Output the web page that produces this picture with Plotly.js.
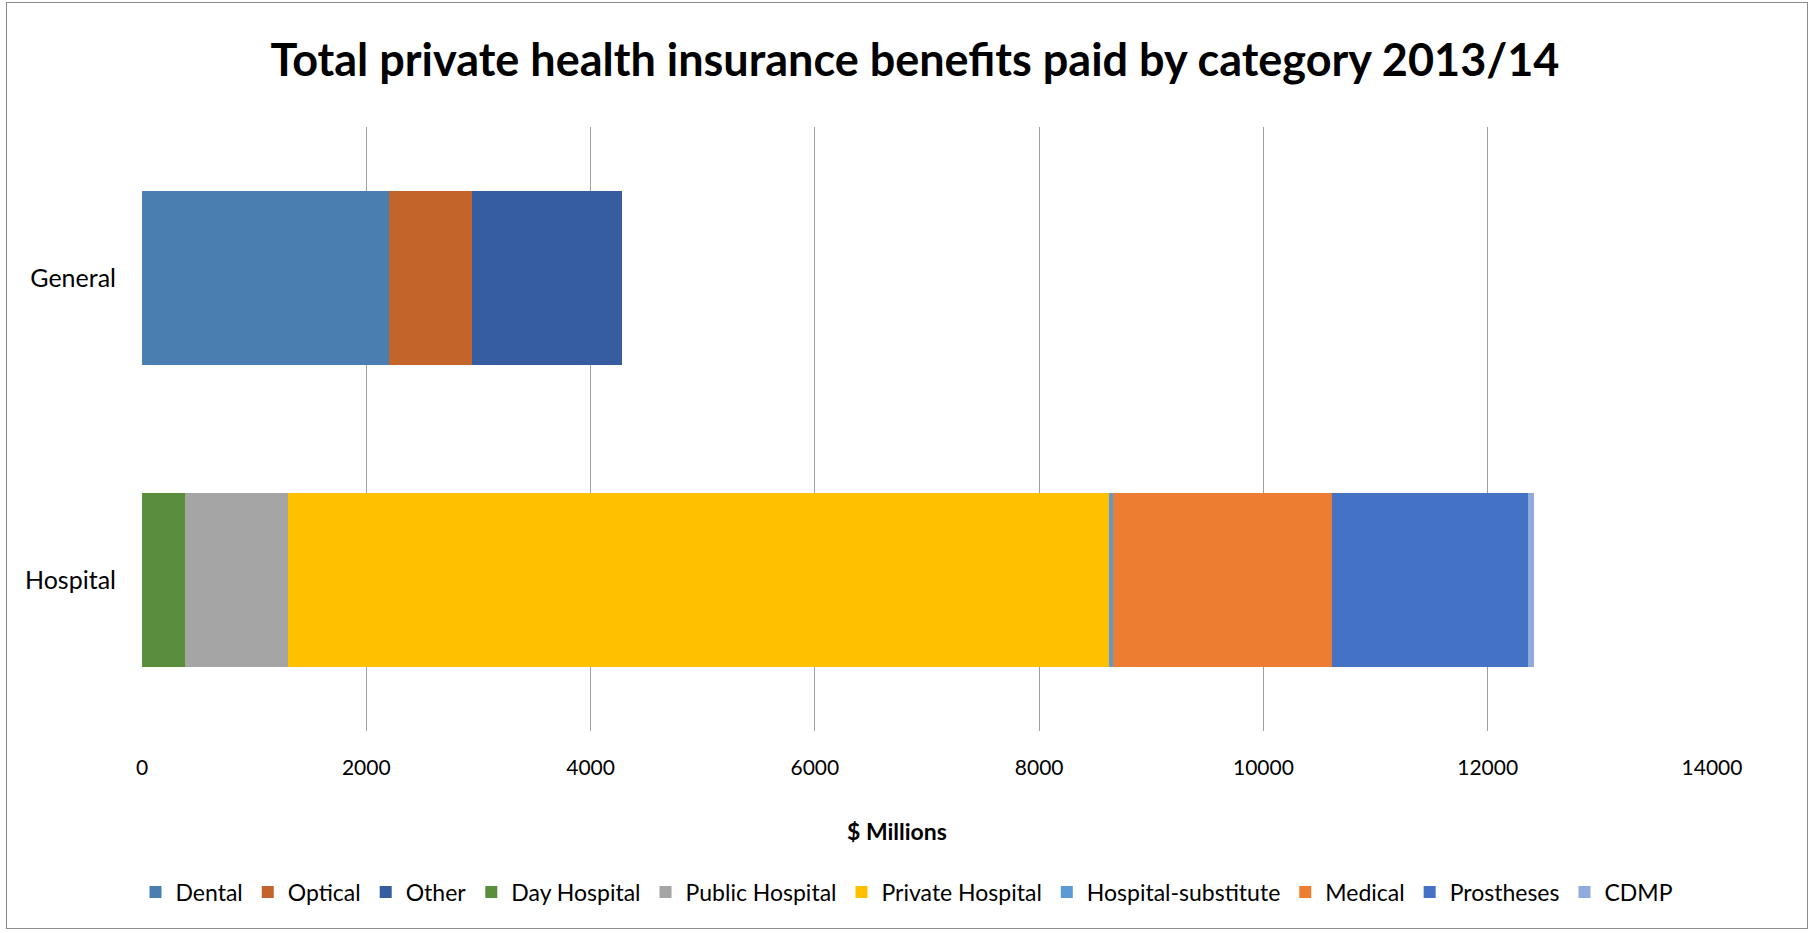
<!DOCTYPE html>
<html>
<head>
<meta charset="utf-8">
<script src="https://cdn.plot.ly/plotly-3.0.1.min.js"></script>
<style>
html,body{margin:0;padding:0;background:#fff;}
#chart{position:absolute;left:0;top:0;width:1814px;height:933px;}
#frame{position:absolute;left:6px;top:2px;width:1800px;height:925px;border:1px solid #8c8c8c;pointer-events:none;}
</style>
</head>
<body>
<div id="chart"></div>
<div id="frame"></div>
<script>
// Data (values in $ millions)
const categories = ["Hospital", "General"];
const seriesNames = ["Dental", "Optical", "Other", "Day Hospital", "Public Hospital", "Private Hospital", "Hospital-substitute", "Medical", "Prostheses", "CDMP"];
// values per series: [Hospital, General]
const dental = [0, 2205];
const optical = [0, 742];
const other = [0, 1336];
const dayHospital = [383, 0];
const publicHospital = [915, 0];
const privateHospital = [7323, 0];
const hospitalSubstitute = [40, 0];
const medical = [1954, 0];
const prostheses = [1746, 0];
const cdmp = [56, 0];
const seriesColors = ["#4A7EB0", "#C3652A", "#355DA0", "#5A8E3C", "#A5A5A5", "#FFC000", "#5B9BD5", "#ED7D31", "#4472C4", "#8FAADC"];
const xTicks = [0, 2000, 4000, 6000, 8000, 10000, 12000, 14000];
const xAxisTitle = "$ Millions";

const seriesValues = [dental, optical, other, dayHospital, publicHospital, privateHospital, hospitalSubstitute, medical, prostheses, cdmp];
const FONT = "Lato, 'Open Sans', 'Liberation Sans', sans-serif";

const traces = seriesNames.map((name, i) => ({
  type: "bar",
  orientation: "h",
  name: name,
  y: categories,
  x: seriesValues[i],
  marker: {color: seriesColors[i], line: {width: 0}},
  hoverinfo: "name+x"
}));

const layout = {
  width: 1814,
  height: 933,
  barmode: "stack",
  bargap: 0.425,
  paper_bgcolor: "#ffffff",
  plot_bgcolor: "#ffffff",
  margin: {l: 142, r: 102, t: 127, b: 202, pad: 0},
  title: {
    text: "<b>Total private health insurance benefits paid by category 2013/14</b>",
    font: {family: FONT, size: 45, color: "#000000"},
    x: 915 / 1814, xanchor: "center", xref: "container",
    y: 1 - 60/933, yref: "container", yanchor: "middle"
  },
  xaxis: {
    range: [0, 14000],
    tickvals: xTicks,
    ticktext: xTicks.map(String),
    showgrid: true,
    gridcolor: "#a0a0a0",
    gridwidth: 1,
    zeroline: false,
    showline: false,
    ticks: "",
    ticklabelstandoff: 22,
    tickfont: {family: FONT, size: 21, color: "#000000"},
    fixedrange: true
  },
  yaxis: {
    type: "category",
    categoryorder: "array",
    categoryarray: categories,
    showgrid: false,
    zeroline: false,
    showline: false,
    ticks: "",
    ticklabelstandoff: 25,
    tickfont: {family: FONT, size: 25, color: "#000000"},
    fixedrange: true
  },
  annotations: [{
    text: "<b>" + xAxisTitle + "</b>",
    xref: "paper", yref: "paper",
    x: (897 - 142) / 1570, y: (731 - 831) / 604,
    xanchor: "center", yanchor: "middle",
    showarrow: false,
    font: {family: FONT, size: 23, color: "#000000"}
  }],
  legend: {
    orientation: "h",
    x: 0.5, xanchor: "center", xref: "container",
    y: (933 - 892) / 933, yref: "container", yanchor: "middle",
    traceorder: "normal",
    itemwidth: 30,
    font: {family: FONT, size: 23, color: "#000000"},
    bgcolor: "rgba(0,0,0,0)"
  },
  showlegend: true
};

Plotly.newPlot("chart", traces, layout, {displayModeBar: false, staticPlot: true});
</script>
</body>
</html>
